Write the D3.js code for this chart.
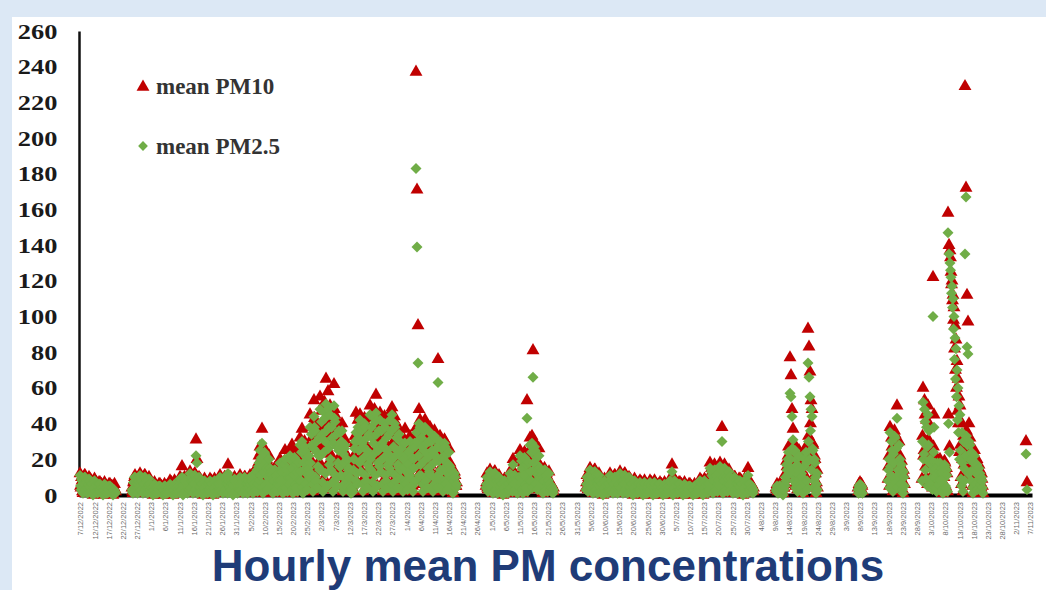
<!DOCTYPE html>
<html lang="en">
<head>
<meta charset="UTF-8">
<title>Hourly mean PM concentrations</title>
<style>
  body { margin: 0; background: #dce8f5; }
  svg { display: block; }
</style>
</head>
<body>
<svg id="chart" width="1046" height="590"></svg>
<script src="https://cdn.jsdelivr.net/npm/d3@7"></script>
<script>
"use strict";

var NA = null; // no measurement

var yTicks = [0, 20, 40, 60, 80, 100, 120, 140, 160, 180, 200, 220, 240, 260];

var dateLabels = [
  "7/12/2022", "12/12/2022", "17/12/2022", "22/12/2022", "27/12/2022",
  "1/1/2023", "6/1/2023", "11/1/2023", "16/1/2023", "21/1/2023", "26/1/2023", "31/1/2023",
  "5/2/2023", "10/2/2023", "15/2/2023", "20/2/2023", "25/2/2023",
  "2/3/2023", "7/3/2023", "12/3/2023", "17/3/2023", "22/3/2023", "27/3/2023",
  "1/4/2023", "6/4/2023", "11/4/2023", "16/4/2023", "21/4/2023", "26/4/2023",
  "1/5/2023", "6/5/2023", "11/5/2023", "16/5/2023", "21/5/2023", "26/5/2023", "31/5/2023",
  "5/6/2023", "10/6/2023", "15/6/2023", "20/6/2023", "25/6/2023", "30/6/2023",
  "5/7/2023", "10/7/2023", "15/7/2023", "20/7/2023", "25/7/2023", "30/7/2023",
  "4/8/2023", "9/8/2023", "14/8/2023", "19/8/2023", "24/8/2023", "29/8/2023",
  "3/9/2023", "8/9/2023", "13/9/2023", "18/9/2023", "23/9/2023", "28/9/2023",
  "3/10/2023", "8/10/2023", "13/10/2023", "18/10/2023", "23/10/2023", "28/10/2023",
  "2/11/2023", "7/11/2023"
];

// hourly mean PM2.5, ug/m3
var pm25 = [
  11,5,3,9,8,2,1,7,6,10,10,3,2,8,7,1,4,6,9,4,
  8,4,2,7,6,1,0,5,4,8,7,2,2,6,5,1,3,4,6,3,
  6,3,2,5,4,1,0,4,3,6,5,2,1,5,4,1,2,3,5,2,
  5,2,2,4,4,1,0,3,3,2,2,1,NA,NA,NA,NA,NA,NA,NA,NA,
  NA,NA,NA,NA,NA,NA,NA,NA,NA,NA,NA,NA,NA,NA,NA,NA,NA,NA,NA,NA,
  NA,NA,NA,NA,3,2,1,7,7,10,10,3,2,8,6,1,4,6,8,4,
  11,5,3,9,8,2,1,7,6,10,10,3,2,8,7,1,4,6,9,4,
  6,3,2,5,4,1,0,4,3,6,5,2,1,5,4,1,2,3,5,2,
  5,2,2,4,4,1,0,3,3,5,5,1,1,4,3,1,2,3,4,2,
  6,3,2,5,4,1,0,4,3,6,5,2,1,5,4,1,2,3,5,2,
  9,4,3,8,10,1,0,6,5,9,8,2,2,7,5,1,4,5,7,3,
  12,5,4,10,8,2,1,8,6,11,11,3,22,9,18,1,5,7,10,4,
  8,4,2,7,6,1,0,5,4,8,7,2,2,6,5,1,3,4,6,3,
  8,4,2,7,6,1,0,5,4,8,7,2,2,6,5,1,3,4,6,3,
  10,5,3,9,7,2,1,7,5,10,9,3,2,8,6,1,12,6,8,4,
  9,4,3,8,6,1,0,6,5,9,8,2,2,7,5,1,4,5,7,3,
  10,5,3,9,7,2,1,7,5,10,9,3,2,8,6,1,4,6,8,4,
  10,6,3,10,8,2,1,9,6,12,12,4,3,13,14,2,6,16,18,8,
  25,11,20,21,29,4,1,16,13,24,23,6,5,19,15,3,10,14,20,9,
  15,7,5,13,11,2,1,10,8,14,14,4,3,11,9,2,6,8,12,5,
  18,8,5,15,13,3,1,12,9,17,20,5,4,14,11,2,7,10,14,6,
  22,10,7,19,15,3,1,14,11,21,20,6,4,17,13,2,9,12,18,8,
  28,13,8,24,30,4,1,18,14,27,25,7,6,21,17,3,11,15,22,10,
  38,18,12,34,28,6,2,26,44,38,36,10,8,30,24,4,16,22,32,14,
  48,22,14,41,34,7,2,31,24,46,43,12,51,36,29,5,48,26,38,17,
  45,20,14,38,32,7,2,29,50,43,41,11,9,34,27,5,18,25,36,16,
  35,16,11,30,36,5,2,23,18,26,28,9,7,19,20,4,12,14,15,10,
  5,3,1,4,3,2,2,14,20,26,30,8,35,30,12,6,38,32,25,18,
  42,19,13,36,29,6,2,27,21,40,38,11,8,32,25,4,17,23,34,15,
  45,20,14,38,32,7,2,29,23,43,41,11,46,34,27,5,18,25,36,16,
  42,19,13,36,29,6,2,27,21,40,38,11,8,32,25,4,17,23,34,15,
  42,19,13,36,45,6,2,27,21,40,38,11,8,32,25,4,17,23,34,15,
  30,14,9,26,21,5,2,20,15,29,29,8,6,23,18,3,12,17,24,11,
  30,14,9,26,21,5,2,20,15,29,27,8,183,35,139,30,74,22,40,11,
  38,17,11,32,27,6,2,25,19,36,38,10,8,29,23,4,15,21,30,13,
  35,16,11,30,25,5,2,23,18,33,32,9,7,26,21,4,63,19,28,12,
  30,14,9,26,21,5,2,20,15,29,27,8,6,23,18,3,12,17,24,11,
  16,7,5,14,11,2,1,10,8,12,10,4,4,6,NA,NA,NA,NA,NA,NA,
  NA,NA,NA,NA,NA,NA,NA,NA,NA,NA,NA,NA,NA,NA,NA,NA,NA,NA,NA,NA,
  NA,NA,NA,NA,NA,NA,NA,NA,NA,NA,NA,NA,NA,NA,NA,NA,NA,NA,NA,NA,
  NA,NA,NA,NA,NA,NA,NA,NA,NA,NA,NA,NA,4,6,10,3,2,9,7,5,
  13,6,4,11,9,2,1,8,7,12,12,3,3,10,8,1,5,7,10,5,
  8,4,2,7,6,1,0,5,4,8,7,2,2,6,5,1,3,4,6,3,
  12,5,4,10,8,2,17,8,6,11,11,3,2,9,7,1,5,7,10,4,
  22,10,7,19,15,3,1,14,11,21,20,6,4,17,43,2,9,12,18,8,
  28,13,8,24,29,4,66,18,14,27,25,7,6,21,17,3,11,15,22,10,
  15,7,5,13,11,2,1,10,8,14,14,4,3,11,9,2,6,8,12,5,
  6,3,2,5,4,2,1,3,NA,NA,NA,NA,NA,NA,NA,NA,NA,NA,NA,NA,
  NA,NA,NA,NA,NA,NA,NA,NA,NA,NA,NA,NA,NA,NA,NA,NA,NA,NA,NA,NA,
  NA,NA,NA,NA,NA,NA,NA,NA,NA,NA,NA,NA,NA,NA,NA,NA,NA,NA,NA,NA,
  NA,NA,NA,NA,NA,NA,NA,NA,NA,NA,NA,NA,3,6,10,4,2,9,8,5,
  14,6,4,12,10,2,1,9,7,13,13,4,3,11,8,1,6,8,11,5,
  8,4,2,7,6,1,0,5,4,8,7,2,2,6,5,1,3,4,6,3,
  11,5,3,9,8,2,1,7,6,10,10,3,2,8,7,1,4,6,9,4,
  12,5,4,10,8,2,1,8,6,11,11,3,2,9,7,1,5,7,10,4,
  8,4,2,7,6,1,0,5,4,8,7,2,2,6,5,1,3,4,6,3,
  7,3,2,6,5,1,0,5,4,7,6,2,1,5,4,1,3,4,6,2,
  7,3,2,6,5,1,0,5,4,7,6,2,1,5,4,1,3,4,6,2,
  6,3,2,5,4,1,0,4,3,6,5,2,1,5,4,1,2,3,5,2,
  8,4,2,7,13,1,0,5,4,8,7,2,2,6,5,1,3,4,6,3,
  6,3,2,5,4,1,0,4,3,6,5,2,1,5,4,1,2,3,5,2,
  5,2,2,4,4,1,0,3,3,5,5,1,1,4,3,1,2,3,4,2,
  8,4,2,7,6,1,0,5,4,8,7,2,2,6,5,1,3,4,6,3,
  15,7,5,13,11,2,1,10,8,14,14,4,3,11,9,2,6,8,12,5,
  16,7,5,14,30,2,1,10,8,15,14,4,3,12,10,2,6,9,13,6,
  10,5,3,9,7,2,1,7,5,10,9,3,2,8,6,1,4,6,8,4,
  8,4,2,7,6,1,0,5,4,8,7,2,2,6,5,1,11,4,6,3,
  6,3,2,5,4,2,1,3,NA,NA,NA,NA,NA,NA,NA,NA,NA,NA,NA,NA,
  NA,NA,NA,NA,NA,NA,NA,NA,NA,NA,NA,NA,NA,NA,NA,NA,NA,NA,NA,NA,
  NA,NA,NA,NA,NA,NA,NA,NA,NA,NA,NA,NA,3,2,5,4,1,2,4,5,
  5,2,2,4,4,1,0,3,3,6,5,10,8,17,14,11,20,24,12,16,
  57,20,55,12,44,26,31,8,14,24,25,4,6,20,17,2,11,14,22,9,
  14,6,4,12,10,2,1,9,7,16,20,5,24,18,8,3,74,30,66,20,
  55,36,48,14,44,26,25,4,8,20,18,10,1,6,12,3,NA,NA,NA,NA,
  NA,NA,NA,NA,NA,NA,NA,NA,NA,NA,NA,NA,NA,NA,NA,NA,NA,NA,NA,NA,
  NA,NA,NA,NA,NA,NA,NA,NA,NA,NA,NA,NA,NA,NA,NA,NA,NA,NA,NA,NA,
  NA,NA,NA,NA,NA,NA,NA,NA,NA,NA,NA,NA,NA,NA,NA,NA,NA,NA,NA,NA,
  NA,NA,NA,NA,NA,NA,NA,NA,NA,NA,NA,NA,NA,NA,NA,NA,3,1,5,4,
  6,3,2,5,4,1,NA,NA,NA,NA,NA,NA,NA,NA,NA,NA,NA,NA,NA,NA,
  NA,NA,NA,NA,NA,NA,NA,NA,NA,NA,NA,NA,NA,NA,NA,NA,NA,NA,NA,NA,
  NA,NA,NA,NA,NA,NA,NA,NA,NA,NA,NA,NA,NA,NA,NA,NA,8,14,20,4,
  35,16,11,30,25,5,2,23,18,33,32,9,7,26,43,4,14,19,28,12,
  20,9,6,17,14,3,1,13,10,5,NA,NA,NA,NA,NA,NA,NA,NA,NA,NA,
  NA,NA,NA,NA,NA,NA,NA,NA,NA,NA,NA,NA,NA,NA,NA,NA,NA,NA,NA,NA,
  NA,NA,NA,NA,8,30,52,20,23,48,41,14,9,38,27,5,45,28,36,18,
  20,9,6,17,14,3,100,24,38,10,18,15,4,2,12,18,8,6,16,13,
  18,8,5,15,13,3,1,12,9,17,16,5,4,14,11,2,147,40,135,24,
  130,126,122,113,117,105,110,93,100,76,88,65,82,55,70,42,60,35,50,20,
  45,25,9,5,35,18,2,30,15,8,135,22,167,33,83,28,79,12,30,20,
  28,13,8,24,20,4,1,18,14,22,18,7,6,16,17,3,11,12,15,9,
  12,6,3,10,8,4,1,NA,NA,NA,NA,NA,NA,NA,NA,NA,NA,NA,NA,NA,
  NA,NA,NA,NA,NA,NA,NA,NA,NA,NA,NA,NA,NA,NA,NA,NA,NA,NA,NA,NA,
  NA,NA,NA,NA,NA,NA,NA,NA,NA,NA,NA,NA,NA,NA,NA,NA,NA,NA,NA,NA,
  NA,NA,NA,NA,NA,NA,NA,NA,NA,NA,NA,NA,NA,NA,NA,NA,NA,NA,NA,NA,
  NA,NA,NA,NA,NA,NA,NA,NA,NA,NA,NA,NA,23,NA,3,NA,NA,NA,NA,NA
];

// hourly mean PM10, ug/m3
var pm10 = [
  12,5,4,10,8,2,1,8,6,11,11,3,2,9,7,1,5,7,10,4,
  9,4,3,8,6,1,0,6,5,9,8,2,2,7,5,1,4,5,7,3,
  7,3,2,6,5,1,0,5,4,7,6,2,1,5,4,1,3,4,6,2,
  6,3,2,5,5,1,0,4,4,6,3,2,NA,NA,NA,NA,NA,NA,NA,NA,
  NA,NA,NA,NA,NA,NA,NA,NA,NA,NA,NA,NA,NA,NA,NA,NA,NA,NA,NA,NA,
  NA,NA,NA,NA,4,2,1,7,8,10,11,3,2,8,7,1,5,6,9,4,
  12,5,4,10,8,2,1,8,6,11,11,3,2,9,7,1,5,7,10,4,
  7,3,2,6,5,1,0,5,4,7,6,2,1,5,4,1,3,4,6,2,
  6,3,2,5,4,1,0,4,3,6,5,2,1,5,4,1,2,3,5,2,
  8,4,2,7,6,1,0,5,4,8,7,2,2,6,5,1,3,4,6,3,
  10,5,3,9,16,2,1,7,5,10,9,3,2,8,6,1,4,6,8,4,
  13,6,4,11,9,2,1,8,7,12,12,3,31,10,20,1,6,7,10,5,
  9,4,3,8,6,1,0,6,5,9,8,2,2,7,5,1,4,5,7,3,
  9,4,3,8,6,1,0,6,5,9,8,2,2,7,5,1,4,5,7,3,
  11,5,3,9,8,2,1,7,6,10,10,3,2,8,7,1,17,6,9,4,
  10,5,3,9,7,2,1,7,5,10,9,3,2,8,6,1,4,6,8,4,
  11,5,3,9,8,2,1,7,6,10,10,3,2,8,7,1,4,6,9,4,
  11,7,4,11,9,2,1,10,7,13,13,5,4,15,16,2,7,18,22,9,
  27,12,24,23,37,4,1,18,14,26,24,7,5,20,16,3,11,15,22,9,
  16,7,5,14,11,2,1,10,8,15,14,4,3,12,10,2,6,9,13,6,
  20,9,6,17,14,3,1,13,10,19,25,5,4,15,12,2,8,11,16,7,
  25,11,8,21,28,4,1,16,13,24,23,6,5,19,15,3,10,14,20,9,
  32,14,10,27,37,5,2,21,16,30,29,8,6,24,19,3,13,18,26,11,
  45,20,14,38,32,7,2,29,53,43,41,11,9,34,27,5,18,25,36,16,
  55,25,17,47,39,8,3,36,28,52,50,14,65,41,33,6,58,30,44,19,
  50,23,15,43,35,8,3,33,62,48,45,13,10,38,30,5,20,28,40,18,
  38,18,12,33,40,6,2,25,20,29,31,10,8,21,22,5,13,16,17,11,
  6,4,2,5,4,3,3,16,22,29,33,9,46,33,14,7,42,36,28,20,
  45,20,14,38,32,7,2,29,23,43,41,11,9,34,27,5,18,25,36,16,
  50,23,15,43,35,8,3,33,25,48,45,13,56,38,30,5,20,28,40,18,
  46,21,14,39,32,7,2,30,23,44,41,12,9,35,28,5,18,25,37,16,
  46,21,14,39,49,7,2,30,23,44,41,12,9,35,28,5,18,25,37,16,
  33,15,10,28,23,5,2,21,17,31,37,8,7,25,20,3,13,18,26,12,
  33,15,10,28,23,5,2,21,17,31,30,8,237,38,171,33,95,24,48,12,
  42,19,13,36,29,6,2,27,21,40,42,11,8,32,25,4,17,23,34,15,
  38,17,11,32,27,6,2,25,19,36,34,10,8,29,23,4,76,21,30,13,
  33,15,10,28,23,5,2,21,17,31,30,8,7,25,20,3,13,18,26,12,
  18,8,6,15,12,3,1,11,9,13,11,5,5,7,NA,NA,NA,NA,NA,NA,
  NA,NA,NA,NA,NA,NA,NA,NA,NA,NA,NA,NA,NA,NA,NA,NA,NA,NA,NA,NA,
  NA,NA,NA,NA,NA,NA,NA,NA,NA,NA,NA,NA,NA,NA,NA,NA,NA,NA,NA,NA,
  NA,NA,NA,NA,NA,NA,NA,NA,NA,NA,NA,NA,5,7,12,4,3,10,8,6,
  14,6,4,12,10,2,1,9,7,13,13,4,3,11,8,1,6,8,11,5,
  9,4,3,8,6,1,0,6,5,9,8,2,2,7,5,1,4,5,7,3,
  13,6,4,11,9,2,20,8,7,12,12,3,3,10,8,1,5,7,10,5,
  25,11,8,21,18,4,1,16,13,24,23,6,5,19,53,3,10,14,20,9,
  32,14,10,27,33,5,81,21,16,30,29,8,6,24,19,3,13,18,26,11,
  16,7,5,14,11,2,1,10,8,15,14,4,3,12,10,2,6,9,13,6,
  7,4,3,6,5,3,2,4,NA,NA,NA,NA,NA,NA,NA,NA,NA,NA,NA,NA,
  NA,NA,NA,NA,NA,NA,NA,NA,NA,NA,NA,NA,NA,NA,NA,NA,NA,NA,NA,NA,
  NA,NA,NA,NA,NA,NA,NA,NA,NA,NA,NA,NA,NA,NA,NA,NA,NA,NA,NA,NA,
  NA,NA,NA,NA,NA,NA,NA,NA,NA,NA,NA,NA,4,7,11,5,3,10,9,6,
  15,7,5,13,11,2,1,10,8,14,14,4,3,11,9,2,6,8,12,5,
  9,4,3,8,6,1,0,6,5,9,8,2,2,7,5,1,4,5,7,3,
  12,5,4,10,8,2,1,8,6,11,11,3,2,9,7,1,5,7,10,4,
  13,6,4,11,9,2,1,8,7,12,12,3,3,10,8,1,5,7,10,5,
  9,4,3,8,6,1,0,6,5,9,8,2,2,7,5,1,4,5,7,3,
  8,4,2,7,6,1,0,5,4,8,7,2,2,6,5,1,3,4,6,3,
  8,4,2,7,6,1,0,5,4,8,7,2,2,6,5,1,3,4,6,3,
  7,3,2,6,5,1,0,5,4,7,6,2,1,5,4,1,3,4,6,2,
  9,4,3,8,17,1,0,6,5,9,8,2,2,7,5,1,4,5,7,3,
  7,3,2,6,5,1,0,5,4,7,6,2,1,5,4,1,3,4,6,2,
  6,3,2,5,4,1,0,4,3,6,5,2,1,5,4,1,2,3,5,2,
  9,4,3,8,6,1,0,6,5,9,8,2,2,7,5,1,4,5,7,3,
  18,8,5,15,13,3,1,12,9,17,16,5,4,14,11,2,7,10,14,6,
  18,8,5,15,38,3,1,12,9,17,16,5,4,14,11,2,7,10,14,6,
  11,5,3,9,8,2,1,7,6,10,10,3,2,8,7,1,4,6,9,4,
  9,4,3,8,6,1,0,6,5,9,8,2,2,7,5,1,15,5,7,3,
  7,4,3,6,5,3,2,4,NA,NA,NA,NA,NA,NA,NA,NA,NA,NA,NA,NA,
  NA,NA,NA,NA,NA,NA,NA,NA,NA,NA,NA,NA,NA,NA,NA,NA,NA,NA,NA,NA,
  NA,NA,NA,NA,NA,NA,NA,NA,NA,NA,NA,NA,4,3,6,5,2,3,5,6,
  6,3,2,5,5,2,1,4,4,7,6,12,9,19,16,13,22,27,14,18,
  77,22,67,14,48,29,37,9,16,27,28,5,7,22,19,3,12,16,25,10,
  15,7,5,14,11,3,1,10,8,18,22,6,27,20,9,4,93,33,83,22,
  69,40,53,16,48,29,28,5,9,22,20,12,1,7,14,4,NA,NA,NA,NA,
  NA,NA,NA,NA,NA,NA,NA,NA,NA,NA,NA,NA,NA,NA,NA,NA,NA,NA,NA,NA,
  NA,NA,NA,NA,NA,NA,NA,NA,NA,NA,NA,NA,NA,NA,NA,NA,NA,NA,NA,NA,
  NA,NA,NA,NA,NA,NA,NA,NA,NA,NA,NA,NA,NA,NA,NA,NA,NA,NA,NA,NA,
  NA,NA,NA,NA,NA,NA,NA,NA,NA,NA,NA,NA,NA,NA,NA,NA,4,2,6,5,
  7,4,3,6,5,2,NA,NA,NA,NA,NA,NA,NA,NA,NA,NA,NA,NA,NA,NA,
  NA,NA,NA,NA,NA,NA,NA,NA,NA,NA,NA,NA,NA,NA,NA,NA,NA,NA,NA,NA,
  NA,NA,NA,NA,NA,NA,NA,NA,NA,NA,NA,NA,NA,NA,NA,NA,9,16,22,5,
  38,17,11,32,27,6,2,25,19,36,34,10,8,29,50,4,15,21,30,13,
  22,10,7,19,15,3,1,14,11,6,NA,NA,NA,NA,NA,NA,NA,NA,NA,NA,
  NA,NA,NA,NA,NA,NA,NA,NA,NA,NA,NA,NA,NA,NA,NA,NA,NA,NA,NA,NA,
  NA,NA,NA,NA,9,33,60,22,25,53,45,16,10,42,30,6,50,31,40,20,
  22,10,7,19,15,4,122,27,45,12,20,17,4,3,13,20,9,7,18,15,
  20,9,6,17,14,3,1,13,10,19,18,5,4,15,12,2,158,45,140,27,
  137,133,125,118,120,109,112,98,105,82,95,70,87,60,75,47,65,40,55,24,
  50,28,10,6,40,20,2,33,17,9,229,25,172,36,112,31,97,14,40,22,
  32,15,9,27,22,5,1,20,16,25,20,8,7,18,20,4,12,14,17,10,
  14,7,4,12,9,5,1,NA,NA,NA,NA,NA,NA,NA,NA,NA,NA,NA,NA,NA,
  NA,NA,NA,NA,NA,NA,NA,NA,NA,NA,NA,NA,NA,NA,NA,NA,NA,NA,NA,NA,
  NA,NA,NA,NA,NA,NA,NA,NA,NA,NA,NA,NA,NA,NA,NA,NA,NA,NA,NA,NA,
  NA,NA,NA,NA,NA,NA,NA,NA,NA,NA,NA,NA,NA,NA,NA,NA,NA,NA,NA,NA,
  NA,NA,NA,NA,NA,NA,NA,NA,NA,NA,NA,NA,30,NA,7,NA,NA,NA,NA,NA
];

var svg = d3.select("#chart");

// white panel
svg.append("rect")
  .attr("x", 12).attr("y", 17)
  .attr("width", 1034).attr("height", 573)
  .attr("fill", "#ffffff");

var x = d3.scaleLinear().domain([0, pm25.length - 1]).range([80, 1029.5]);
var y = d3.scaleLinear().domain([0, 260]).range([495, 31]);
var xLab = d3.scalePoint().domain(dateLabels).range([79, 1032]).padding(0.1);

// y axis
var yAxis = svg.append("g")
  .attr("transform", "translate(79,0)")
  .call(d3.axisLeft(y).tickValues(yTicks).tickSize(0).tickSizeOuter(0).tickPadding(18));
yAxis.select(".domain").attr("stroke", "#111").attr("stroke-width", 2.5);
yAxis.selectAll("text")
  .attr("transform", "scale(1.2,1)")
  .attr("font-family", "'Liberation Serif', 'Times New Roman', serif")
  .attr("font-weight", "bold")
  .attr("font-size", 22)
  .attr("fill", "#1a1a1a");

// x axis
var xAxis = svg.append("g")
  .attr("transform", "translate(0,495)")
  .call(d3.axisBottom(xLab).tickSize(0).tickSizeOuter(0));
xAxis.select(".domain").attr("stroke", "#000").attr("stroke-width", 4);
xAxis.selectAll("text")
  .attr("transform", "rotate(-90)")
  .attr("x", -7)
  .attr("y", 0)
  .attr("dy", "0.32em")
  .attr("text-anchor", "end")
  .attr("font-family", "'Liberation Sans', Arial, sans-serif")
  .attr("font-size", 7.5)
  .attr("fill", "#6a6a6a");

var triangle = d3.symbol().type(d3.symbolTriangle).size(72)();
var diamond = d3.symbol().type(d3.symbolSquare).size(60)();
var legendDiamond = d3.symbol().type(d3.symbolSquare).size(48)();

function points(values) {
  return values.map(function(v, i) { return {i: i, v: v}; })
               .filter(function(d) { return d.v !== null; });
}

svg.append("g")
  .selectAll("path")
  .data(points(pm10))
  .join("path")
  .attr("d", triangle)
  .attr("transform", function(d) { return "translate(" + x(d.i) + "," + y(d.v) + ")"; })
  .attr("fill", "#c00000");

svg.append("g")
  .selectAll("path")
  .data(points(pm25))
  .join("path")
  .attr("d", diamond)
  .attr("transform", function(d) { return "translate(" + x(d.i) + "," + y(d.v) + ") rotate(45)"; })
  .attr("fill", "#70ad47");

// legend
var legend = svg.append("g")
  .attr("font-family", "'Liberation Serif', 'Times New Roman', serif")
  .attr("font-weight", "bold")
  .attr("font-size", 23)
  .attr("fill", "#333");
legend.append("path").attr("d", triangle).attr("transform", "translate(143,87)").attr("fill", "#c00000");
legend.append("text").attr("x", 156).attr("y", 94).text("mean PM10");
legend.append("path").attr("d", legendDiamond).attr("transform", "translate(143,146) rotate(45)").attr("fill", "#70ad47");
legend.append("text").attr("x", 156).attr("y", 154).text("mean PM2.5");

// title
svg.append("text")
  .attr("x", 548).attr("y", 581)
  .attr("text-anchor", "middle")
  .attr("font-family", "'Liberation Sans', Arial, sans-serif")
  .attr("font-weight", "bold")
  .attr("font-size", 44)
  .attr("fill", "#1f3c78")
  .text("Hourly mean PM concentrations");
</script>
</body>
</html>
